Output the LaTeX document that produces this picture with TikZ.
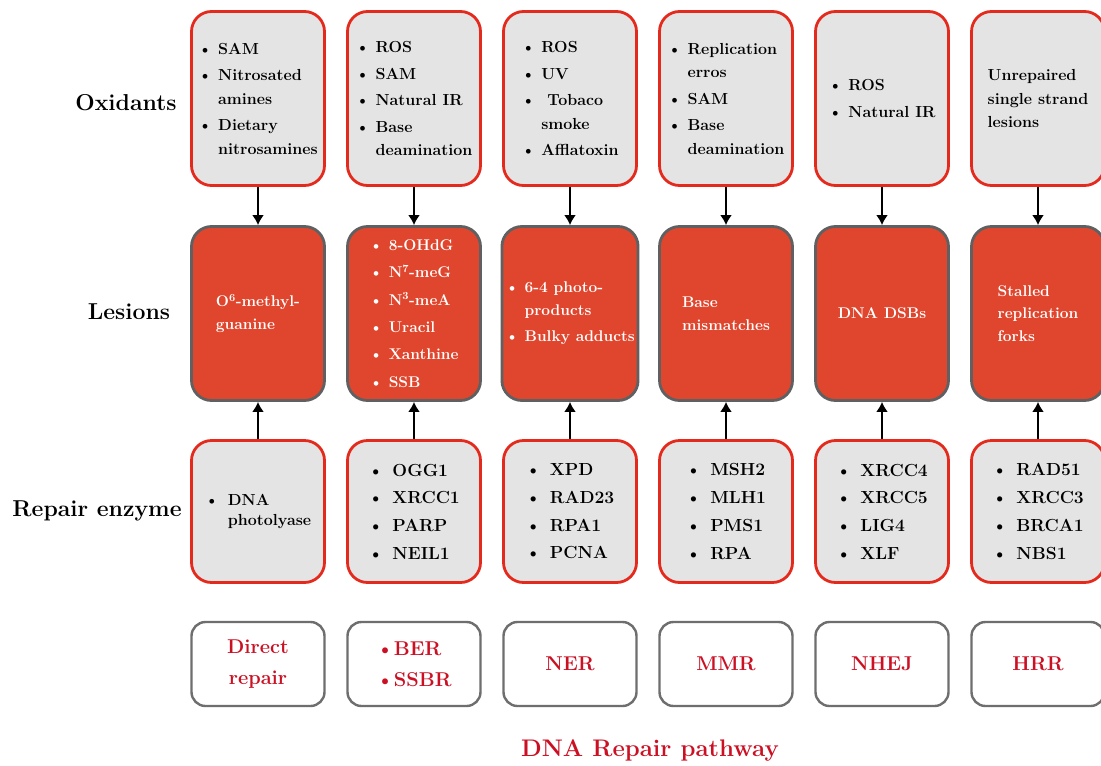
\documentclass[tikz,border=0pt]{standalone}
\usepackage{fontspec}
\usetikzlibrary{arrows.meta}

\definecolor{boxred}{HTML}{E42A1D}
\definecolor{boxgray}{HTML}{E4E4E4}
\definecolor{lesfill}{HTML}{E0462D}
\definecolor{lesline}{HTML}{5F6062}
\definecolor{pathline}{HTML}{6E6E6E}
\definecolor{pathred}{HTML}{CC1024}

\newcommand{\bul}{\textbullet\ }
\newcommand{\hang}{\hphantom{\textbullet\ }}
\newcommand{\ebul}{\textbullet\hspace{9pt}}

\begin{document}
\begin{tikzpicture}[x=1pt,y=-1pt,
    oxbox/.style={draw=boxred,fill=boxgray,line width=2.8pt,rounded corners=20pt,
      minimum width=133pt,minimum height=174pt,align=left,
      font=\fontsize{16}{23.5}\selectfont\bfseries},
    lesbox/.style={oxbox,draw=lesline,fill=lesfill,text=white,
      font=\fontsize{15.5}{22.5}\selectfont\bfseries},
    enzbox/.style={oxbox,minimum height=142pt,font=\fontsize{17.5}{27.7}\selectfont\bfseries},
    pathbox/.style={oxbox,draw=pathline,fill=white,line width=2.4pt,rounded corners=14pt,
      minimum height=84pt,text=pathred,font=\fontsize{20}{31}\selectfont\bfseries},
    rowlabel/.style={font=\fontsize{23}{28}\selectfont\bfseries},
    arr/.style={line width=2.8pt,-{Latex[length=10pt,width=12pt]}}]
  \clip (0,0) rectangle (1101,766);
  \fill[white] (0,0) rectangle (1101,766);

  % row labels
  \node[rowlabel] (lox) at (126,103) {Oxidants};
  \node[rowlabel] (lles) at (129,312) {Lesions};
  \node[rowlabel] (lenz) at (97,511) {Repair enzyme};

  % oxidants
  \node[oxbox] (ox1) at (258,98.5) {\bul SAM\\[3pt]\bul Nitrosated\\\hang amines\\[3pt]\bul Dietary\\\hang nitrosamines};
  \node[oxbox] (ox2) at (414,98.5) {\bul ROS\\[3pt]\bul SAM\\[3pt]\bul Natural IR\\[3pt]\bul Base\\\hang deamination};
  \node[oxbox] (ox3) at (570,98.5) {\bul ROS\\[3pt]\bul UV\\[3pt]\bul\ Tobaco\\\hang smoke\\[3pt]\bul Afflatoxin};
  \node[oxbox] (ox4) at (726,98.5) {\bul Replication\\\hang erros\\[3pt]\bul SAM\\[3pt]\bul Base\\\hang deamination};
  \node[oxbox] (ox5) at (882,98.5) {\bul ROS\\[3pt]\bul Natural IR};
  \node[oxbox] (ox6) at (1038,98.5) {Unrepaired\\single strand\\lesions};

  % lesions
  \node[lesbox] (les1) at (258,313.5) {O\textsuperscript{6}-methyl-\\guanine};
  \node[lesbox,font=\fontsize{15.5}{27.4}\selectfont\bfseries] (les2) at (414,313.5)
    {\bul 8-OHdG\\\bul N\textsuperscript{7}-meG\\\bul N\textsuperscript{3}-meA\\\bul Uracil\\\bul Xanthine\\\bul SSB};
  \node[lesbox] (les3) at (570,313.5) {\bul 6-4 photo-\\\hang products\\[4pt]\bul Bulky adducts};
  \node[lesbox] (les4) at (726,313.5) {Base\\mismatches};
  \node[lesbox] (les5) at (882,313.5) {DNA DSBs};
  \node[lesbox] (les6) at (1038,313.5) {Stalled\\replication\\forks};

  % repair enzymes
  \node[enzbox,font=\fontsize{16}{20}\selectfont\bfseries] (enz1) at (258,511.5) {\ebul DNA\\\hphantom{\ebul}photolyase};
  \node[enzbox] (enz2) at (414,511.5) {\ebul OGG1\\\ebul XRCC1\\\ebul PARP\\\ebul NEIL1};
  \node[enzbox] (enz3) at (570,511.5) {\ebul XPD\\\ebul RAD23\\\ebul RPA1\\\ebul PCNA};
  \node[enzbox] (enz4) at (726,511.5) {\ebul MSH2\\\ebul MLH1\\\ebul PMS1\\\ebul RPA};
  \node[enzbox] (enz5) at (882,511.5) {\ebul XRCC4\\\ebul XRCC5\\\ebul LIG4\\\ebul XLF};
  \node[enzbox] (enz6) at (1038,511.5) {\ebul RAD51\\\ebul XRCC3\\\ebul BRCA1\\\ebul NBS1};

  % pathways
  \node[pathbox,align=center] (pw1) at (258,664) {Direct\\repair};
  \node[pathbox] (pw2) at (414,664) {\textbullet BER\\\textbullet SSBR};
  \node[pathbox] (pw3) at (570,664) {NER};
  \node[pathbox] (pw4) at (726,664) {MMR};
  \node[pathbox] (pw5) at (882,664) {NHEJ};
  \node[pathbox] (pw6) at (1038,664) {HRR};
  \node[font=\fontsize{24}{28}\selectfont\bfseries,text=pathred] (title) at (650,750) {DNA Repair pathway};

  % arrows
  \draw[arr] (ox1) -- (les1);
  \draw[arr] (ox2) -- (les2);
  \draw[arr] (ox3) -- (les3);
  \draw[arr] (ox4) -- (les4);
  \draw[arr] (ox5) -- (les5);
  \draw[arr] (ox6) -- (les6);
  \draw[arr] (enz1) -- (les1);
  \draw[arr] (enz2) -- (les2);
  \draw[arr] (enz3) -- (les3);
  \draw[arr] (enz4) -- (les4);
  \draw[arr] (enz5) -- (les5);
  \draw[arr] (enz6) -- (les6);
\end{tikzpicture}
\end{document}
